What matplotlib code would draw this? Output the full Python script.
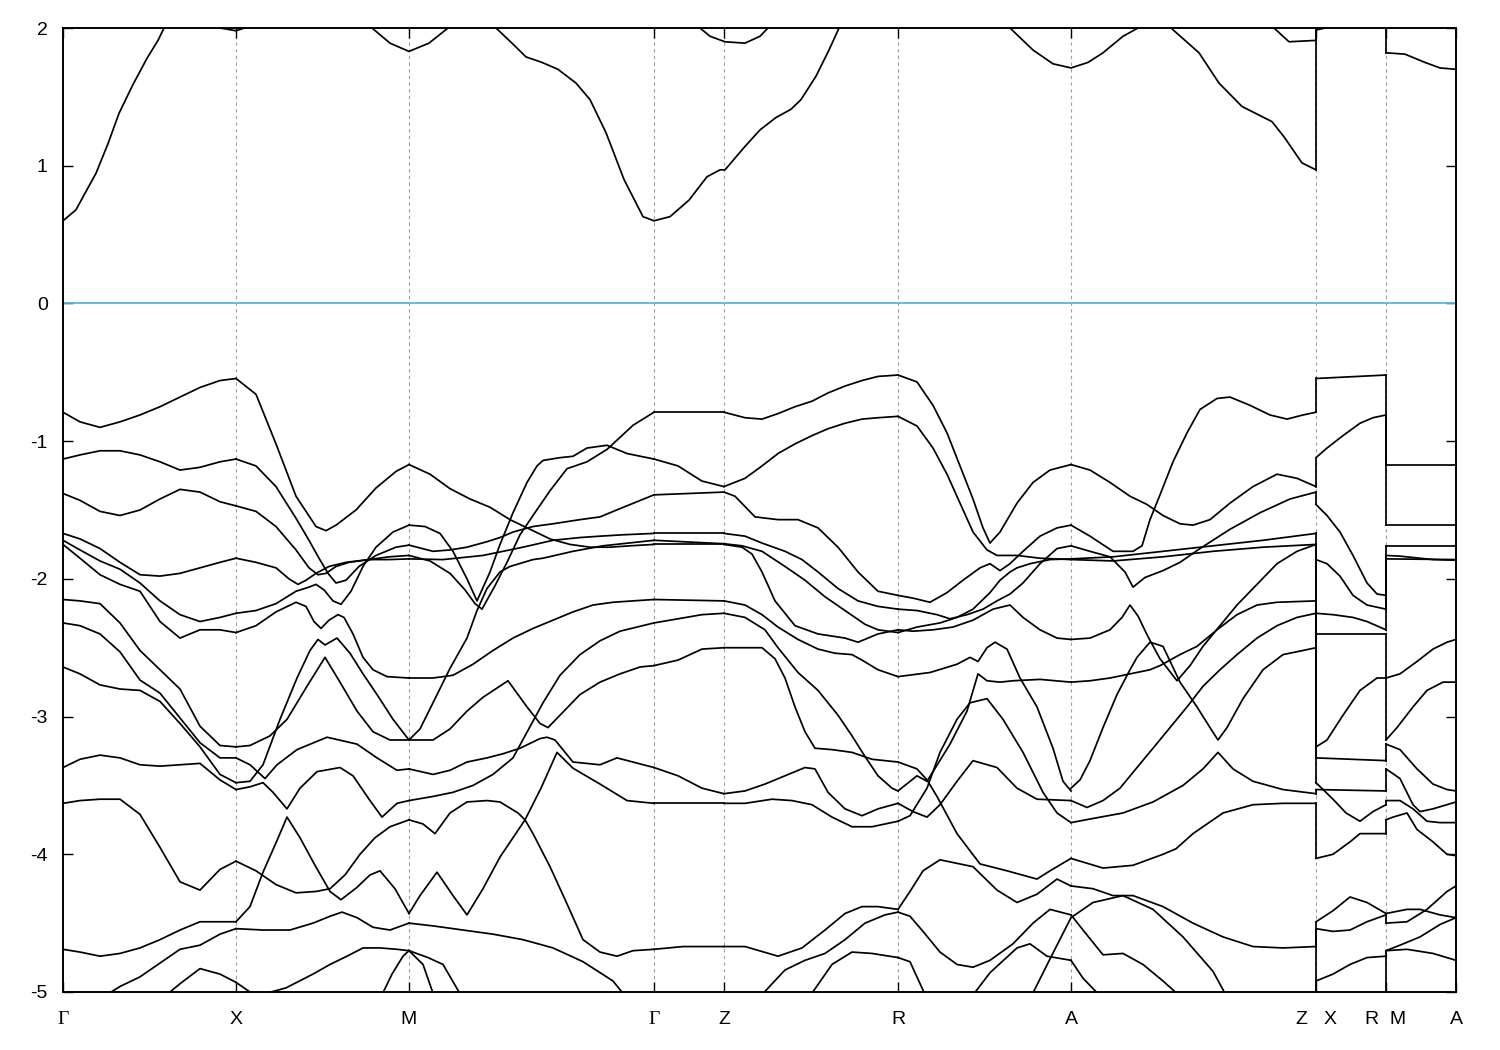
import matplotlib
matplotlib.use("Agg")
from matplotlib import pyplot as plt

plt.rcParams['font.family'] = ['Liberation Sans', 'DejaVu Sans']
plt.rcParams['axes.unicode_minus'] = False

# high-symmetry points along the k-path (path length, arbitrary units)
tick_pos = [0, 173, 346, 591, 661, 835, 1008, 1253, 1323, 1393]
tick_lab = ["Γ", "X", "M", "Γ", "Z", "R", "A", "Z   X", "R  M", "A"]
breaks = [1253, 1323]

# Gamma - X, bands on a common k grid
gx_k = [0, 17, 37, 57, 77, 97, 117, 137, 157, 173]
gx_e = [
    [-0.79, -0.86, -0.90, -0.86, -0.81, -0.75, -0.68, -0.61, -0.56, -0.545],
    [-1.13, -1.10, -1.07, -1.07, -1.10, -1.15, -1.21, -1.19, -1.15, -1.13],
    [-1.38, -1.43, -1.51, -1.54, -1.50, -1.42, -1.35, -1.37, -1.44, -1.47],
    [-1.67, -1.71, -1.78, -1.88, -1.97, -1.98, -1.96, -1.92, -1.88, -1.85],
    [-1.72, -1.79, -1.87, -1.93, -2.03, -2.16, -2.26, -2.31, -2.28, -2.25],
    [-1.75, -1.85, -1.97, -2.04, -2.09, -2.31, -2.43, -2.37, -2.37, -2.39],
    [-2.15, -2.16, -2.18, -2.32, -2.52, -2.66, -2.80, -3.07, -3.21, -3.22],
    [-2.32, -2.34, -2.40, -2.53, -2.735, -2.83, -3.01, -3.19, -3.30, -3.30],
    [-2.64, -2.69, -2.77, -2.80, -2.81, -2.89, -3.05, -3.22, -3.42, -3.48],
    [-3.37, -3.31, -3.28, -3.30, -3.35, -3.36, -3.35, -3.34, -3.46, -3.53],
    [-3.63, -3.61, -3.60, -3.60, -3.71, -3.95, -4.20, -4.26, -4.11, -4.05],
    [-4.69, -4.71, -4.74, -4.72, -4.68, -4.62, -4.55, -4.49, -4.49, -4.49],
    [-5.35, -5.20, -5.05, -4.96, -4.89, -4.79, -4.69, -4.66, -4.58, -4.54],
    [-5.50, -5.40, -5.30, -5.20, -5.12, -5.06, -4.94, -4.83, -4.87, -4.93],
]

# X - M, (k, E) pairs
xm_bands = [
    [(173, -0.545), (193, -0.66), (213, -1.02), (233, -1.40), (253, -1.62), (263, -1.65), (273, -1.61), (293, -1.50), (313, -1.34), (333, -1.22), (346, -1.17)],
    [(173, -1.13), (193, -1.18), (213, -1.33), (233, -1.56), (246, -1.72), (256, -1.85), (265, -1.96), (273, -2.03), (283, -2.01), (296, -1.91), (313, -1.83), (333, -1.77), (346, -1.755)],
    [(173, -1.47), (193, -1.51), (213, -1.62), (233, -1.79), (246, -1.92), (255, -1.97), (263, -1.96), (273, -1.91), (286, -1.88), (306, -1.86), (326, -1.84), (346, -1.83)],
    [(173, -1.85), (193, -1.88), (213, -1.92), (226, -2.00), (235, -2.04), (243, -2.01), (253, -1.96), (266, -1.91), (283, -1.88), (306, -1.86), (326, -1.86), (346, -1.855)],
    [(173, -2.25), (193, -2.23), (213, -2.18), (233, -2.09), (246, -2.06), (253, -2.04), (261, -2.08), (270, -2.16), (278, -2.185), (288, -2.09), (300, -1.91), (313, -1.77), (330, -1.66), (346, -1.61)],
    [(173, -2.39), (193, -2.34), (213, -2.24), (233, -2.17), (243, -2.20), (251, -2.31), (258, -2.36), (266, -2.30), (275, -2.26), (281, -2.28), (290, -2.40), (300, -2.57), (310, -2.66), (324, -2.71), (346, -2.72)],
    [(173, -3.22), (187, -3.21), (207, -3.14), (224, -3.02), (244, -2.78), (262, -2.57), (277, -2.75), (294, -2.96), (310, -3.11), (327, -3.17), (346, -3.17)],
    [(173, -3.48), (187, -3.47), (200, -3.35), (217, -3.02), (234, -2.72), (247, -2.52), (255, -2.44), (262, -2.48), (274, -2.43), (287, -2.54), (300, -2.69), (314, -2.84), (330, -3.02), (346, -3.17)],
    [(173, -3.30), (187, -3.35), (202, -3.45), (214, -3.35), (234, -3.24), (264, -3.15), (294, -3.20), (314, -3.30), (334, -3.39), (346, -3.38)],
    [(173, -3.53), (187, -3.51), (200, -3.48), (210, -3.55), (224, -3.67), (237, -3.52), (254, -3.40), (277, -3.37), (290, -3.43), (307, -3.61), (319, -3.73), (334, -3.63), (346, -3.61)],
    [(173, -4.05), (193, -4.12), (213, -4.22), (233, -4.28), (253, -4.27), (267, -4.25), (282, -4.15), (297, -4.00), (312, -3.88), (327, -3.80), (346, -3.75)],
    [(173, -4.49), (187, -4.38), (200, -4.13), (214, -3.90), (224, -3.73), (237, -3.88), (252, -4.08), (267, -4.27), (278, -4.33), (294, -4.24), (307, -4.15), (317, -4.12), (332, -4.25), (346, -4.43)],
    [(173, -4.54), (200, -4.55), (227, -4.55), (250, -4.50), (267, -4.45), (279, -4.42), (294, -4.46), (310, -4.53), (327, -4.55), (346, -4.50)],
    [(193, -5.03), (223, -4.97), (250, -4.87), (267, -4.80), (284, -4.74), (300, -4.68), (317, -4.68), (334, -4.69), (346, -4.70)],
    [(317, -5.05), (329, -4.87), (340, -4.74), (346, -4.70)],
    [(173, -4.93), (187, -5.00), (202, -5.10)],
]

# M - Gamma
mg_bands = [
    [(346, -1.17), (367, -1.24), (387, -1.345), (407, -1.42), (427, -1.48), (447, -1.57), (467, -1.64), (487, -1.71), (507, -1.75), (527, -1.77), (547, -1.77), (567, -1.76), (591, -1.75)],
    [(346, -1.61), (362, -1.62), (377, -1.67), (390, -1.80), (404, -2.00), (414, -2.16), (427, -1.95), (437, -1.75), (450, -1.52), (464, -1.30), (474, -1.18), (480, -1.14), (497, -1.12), (510, -1.11), (524, -1.05), (544, -1.03), (564, -1.09), (591, -1.13)],
    [(346, -1.755), (370, -1.80), (387, -1.79), (404, -1.77), (424, -1.73), (437, -1.70), (450, -1.66), (470, -1.62), (490, -1.60), (517, -1.57), (537, -1.55), (557, -1.49), (591, -1.39)],
    [(346, -1.83), (367, -1.87), (387, -1.96), (402, -2.08), (412, -2.18), (419, -2.22), (432, -2.05), (444, -1.88), (457, -1.68), (470, -1.54), (487, -1.36), (504, -1.20), (524, -1.15), (544, -1.06), (570, -0.885), (591, -0.79)],
    [(346, -1.855), (380, -1.86), (420, -1.83), (460, -1.77), (490, -1.72), (517, -1.70), (537, -1.69), (560, -1.68), (591, -1.67)],
    [(346, -2.72), (370, -2.72), (390, -2.70), (410, -2.62), (430, -2.52), (450, -2.43), (470, -2.36), (490, -2.30), (510, -2.24), (530, -2.19), (550, -2.17), (570, -2.16), (591, -2.15)],
    [(346, -3.17), (357, -3.09), (370, -2.90), (387, -2.65), (404, -2.43), (414, -2.23), (424, -2.07), (437, -1.95), (447, -1.91), (470, -1.86), (480, -1.85), (510, -1.80), (540, -1.76), (591, -1.72)],
    [(346, -3.17), (370, -3.17), (387, -3.09), (404, -2.96), (420, -2.86), (445, -2.74), (464, -2.93), (477, -3.05), (485, -3.08), (497, -2.99), (517, -2.84), (537, -2.75), (557, -2.69), (577, -2.64), (591, -2.63)],
    [(346, -3.38), (370, -3.42), (387, -3.39), (404, -3.33), (424, -3.30), (440, -3.27), (457, -3.23), (477, -3.16), (484, -3.15), (492, -3.17), (510, -3.33), (537, -3.35), (554, -3.30), (591, -3.37)],
    [(346, -3.61), (370, -3.58), (390, -3.55), (410, -3.50), (430, -3.42), (450, -3.30), (465, -3.10), (480, -2.90), (497, -2.70), (517, -2.55), (537, -2.45), (557, -2.38), (591, -2.32)],
    [(346, -3.75), (360, -3.78), (372, -3.85), (387, -3.70), (404, -3.62), (424, -3.61), (437, -3.62), (455, -3.70), (462, -3.75), (470, -3.85), (487, -4.09), (504, -4.36), (520, -4.62), (537, -4.71), (554, -4.74), (570, -4.70), (591, -4.69)],
    [(346, -4.43), (357, -4.30), (374, -4.13), (390, -4.30), (404, -4.44), (420, -4.25), (437, -4.02), (450, -3.88), (462, -3.75), (478, -3.52), (494, -3.26), (510, -3.375), (537, -3.49), (564, -3.61), (591, -3.63)],
    [(346, -4.50), (370, -4.52), (400, -4.55), (430, -4.58), (460, -4.62), (490, -4.68), (520, -4.78), (550, -4.92), (570, -5.10)],
    [(346, -4.70), (360, -4.80), (372, -5.05)],
    [(346, -4.70), (365, -4.75), (380, -4.80), (400, -5.05)],
]

# Gamma - Z
gz_bands = [
    [(591, -0.79), (661, -0.79)],
    [(591, -1.13), (615, -1.18), (639, -1.29), (661, -1.33)],
    [(591, -1.39), (661, -1.37)],
    [(591, -1.67), (661, -1.67)],
    [(591, -1.72), (661, -1.745)],
    [(591, -1.75), (661, -1.75)],
    [(591, -2.15), (661, -2.16)],
    [(591, -2.32), (615, -2.29), (639, -2.26), (661, -2.25)],
    [(591, -2.63), (615, -2.59), (639, -2.51), (661, -2.50)],
    [(591, -3.37), (615, -3.43), (639, -3.52), (661, -3.56)],
    [(591, -3.63), (661, -3.63)],
    [(591, -4.69), (620, -4.67), (661, -4.67)],
]

# Z - R
zr_bands = [
    [(661, -0.79), (682, -0.83), (699, -0.84), (715, -0.80), (732, -0.75), (749, -0.71), (765, -0.65), (782, -0.60), (799, -0.56), (815, -0.53), (835, -0.52)],
    [(661, -1.33), (682, -1.27), (699, -1.18), (715, -1.09), (732, -1.02), (749, -0.96), (765, -0.91), (782, -0.87), (799, -0.84), (815, -0.83), (835, -0.82)],
    [(661, -1.37), (672, -1.40), (692, -1.55), (715, -1.57), (735, -1.57), (755, -1.63), (775, -1.77), (795, -1.95), (815, -2.09), (835, -2.12)],
    [(661, -1.67), (682, -1.69), (699, -1.74), (722, -1.80), (739, -1.86), (755, -1.95), (775, -2.07), (795, -2.16), (815, -2.20), (835, -2.22)],
    [(661, -1.745), (679, -1.76), (699, -1.80), (722, -1.91), (742, -2.01), (762, -2.13), (782, -2.23), (802, -2.33), (815, -2.37), (835, -2.39)],
    [(661, -1.75), (679, -1.77), (689, -1.82), (699, -1.95), (712, -2.16), (732, -2.34), (755, -2.40), (782, -2.43), (795, -2.46), (815, -2.40), (835, -2.37)],
    [(661, -2.16), (682, -2.19), (699, -2.26), (715, -2.35), (735, -2.44), (755, -2.51), (772, -2.54), (789, -2.55), (799, -2.59), (815, -2.66), (835, -2.71)],
    [(661, -2.25), (682, -2.28), (702, -2.37), (715, -2.50), (735, -2.68), (755, -2.81), (775, -2.99), (789, -3.14), (802, -3.29), (815, -3.43), (829, -3.52), (835, -3.54)],
    [(661, -2.50), (682, -2.50), (699, -2.50), (712, -2.58), (722, -2.72), (732, -2.93), (742, -3.11), (752, -3.23), (769, -3.24), (789, -3.26), (809, -3.31), (835, -3.33)],
    [(661, -3.56), (682, -3.54), (702, -3.49), (722, -3.43), (742, -3.37), (752, -3.38), (765, -3.55), (782, -3.67), (799, -3.72), (815, -3.67), (835, -3.63)],
    [(661, -3.63), (682, -3.63), (709, -3.60), (729, -3.61), (749, -3.64), (769, -3.73), (789, -3.80), (809, -3.80), (835, -3.76)],
    [(661, -4.67), (682, -4.67), (715, -4.74), (739, -4.68), (762, -4.55), (782, -4.43), (799, -4.38), (815, -4.38), (835, -4.40)],
    [(695, -5.05), (722, -4.84), (742, -4.77), (762, -4.72), (782, -4.62), (802, -4.50), (822, -4.44), (835, -4.42)],
    [(745, -5.05), (769, -4.80), (789, -4.71), (809, -4.72), (835, -4.75)],
]

# R - A
ra_bands = [
    [(835, -0.52), (854, -0.57), (870, -0.74), (884, -0.94), (897, -1.18), (910, -1.42), (920, -1.63), (927, -1.74), (937, -1.66), (954, -1.45), (970, -1.30), (987, -1.21), (1008, -1.17)],
    [(835, -0.82), (854, -0.89), (870, -1.05), (884, -1.24), (897, -1.45), (910, -1.66), (924, -1.79), (934, -1.83), (954, -1.83), (977, -1.85), (1008, -1.86)],
    [(835, -2.12), (850, -2.14), (867, -2.17), (884, -2.10), (900, -2.01), (917, -1.92), (927, -1.89), (937, -1.94), (947, -1.89), (960, -1.80), (977, -1.69), (994, -1.63), (1008, -1.61)],
    [(835, -2.22), (854, -2.23), (874, -2.26), (887, -2.29), (904, -2.26), (920, -2.22), (934, -2.16), (947, -2.11), (960, -2.03), (977, -1.89), (994, -1.78), (1008, -1.76)],
    [(835, -2.39), (854, -2.35), (877, -2.32), (894, -2.28), (910, -2.22), (927, -2.10), (937, -2.01), (947, -1.95), (954, -1.92), (967, -1.89), (987, -1.86), (1008, -1.855)],
    [(835, -2.37), (850, -2.38), (870, -2.37), (890, -2.35), (910, -2.30), (930, -2.22), (947, -2.19), (960, -2.28), (977, -2.37), (994, -2.43), (1008, -2.44)],
    [(835, -2.71), (867, -2.68), (894, -2.62), (907, -2.57), (915, -2.60), (924, -2.50), (932, -2.46), (944, -2.51), (957, -2.72), (974, -2.93), (990, -3.23), (1000, -3.47), (1008, -3.54)],
    [(835, -3.54), (854, -3.43), (864, -3.47), (870, -3.40), (887, -3.20), (904, -2.96), (915, -2.69), (924, -2.74), (937, -2.75), (950, -2.74), (977, -2.73), (1008, -2.75)],
    [(835, -3.76), (847, -3.72), (864, -3.52), (877, -3.26), (894, -3.02), (907, -2.90), (924, -2.87), (940, -3.02), (960, -3.26), (980, -3.55), (994, -3.70), (1008, -3.77)],
    [(835, -3.63), (850, -3.69), (864, -3.73), (877, -3.64), (894, -3.47), (910, -3.32), (934, -3.37), (954, -3.52), (974, -3.60), (1008, -3.61)],
    [(835, -3.33), (854, -3.38), (864, -3.46), (874, -3.58), (894, -3.85), (917, -4.07), (944, -4.12), (974, -4.18), (987, -4.12), (1008, -4.03)],
    [(835, -4.40), (847, -4.27), (860, -4.12), (877, -4.04), (910, -4.09), (934, -4.26), (954, -4.35), (974, -4.29), (994, -4.18), (1008, -4.23)],
    [(835, -4.42), (847, -4.45), (860, -4.56), (877, -4.71), (894, -4.80), (910, -4.82), (927, -4.77), (950, -4.65), (970, -4.50), (987, -4.40), (1008, -4.44)],
    [(835, -4.75), (847, -4.78), (864, -5.05)],
    [(907, -5.05), (927, -4.86), (954, -4.68), (967, -4.65), (984, -4.74), (1008, -4.77)],
    [(967, -5.05), (987, -4.76), (1008, -4.46)],
]

# A - Z
az_bands = [
    [(1008, -1.17), (1027, -1.21), (1047, -1.30), (1067, -1.40), (1084, -1.46), (1100, -1.54), (1117, -1.60), (1130, -1.61), (1147, -1.57), (1167, -1.45), (1190, -1.33), (1214, -1.24), (1234, -1.27), (1253, -1.33)],
    [(1008, -1.61), (1027, -1.69), (1050, -1.80), (1070, -1.80), (1079, -1.76), (1087, -1.57), (1097, -1.39), (1110, -1.15), (1124, -0.94), (1137, -0.77), (1154, -0.69), (1167, -0.68), (1187, -0.74), (1207, -0.81), (1224, -0.84), (1240, -0.81), (1253, -0.79)],
    [(1008, -1.76), (1027, -1.80), (1047, -1.84), (1062, -1.95), (1070, -2.06), (1082, -1.99), (1100, -1.94), (1117, -1.88), (1137, -1.78), (1167, -1.64), (1197, -1.52), (1227, -1.42), (1253, -1.37)],
    [(1008, -1.855), (1050, -1.84), (1100, -1.80), (1150, -1.76), (1200, -1.72), (1253, -1.67)],
    [(1008, -1.86), (1050, -1.87), (1100, -1.84), (1150, -1.80), (1200, -1.77), (1253, -1.75)],
    [(1008, -2.44), (1027, -2.43), (1047, -2.37), (1059, -2.28), (1067, -2.19), (1075, -2.27), (1085, -2.42), (1097, -2.58), (1114, -2.74), (1127, -2.63), (1140, -2.49), (1157, -2.34), (1174, -2.19), (1194, -2.04), (1214, -1.89), (1234, -1.80), (1253, -1.75)],
    [(1008, -2.75), (1027, -2.74), (1047, -2.72), (1067, -2.69), (1087, -2.66), (1097, -2.63), (1117, -2.55), (1134, -2.49), (1154, -2.37), (1174, -2.26), (1194, -2.19), (1214, -2.17), (1253, -2.16)],
    [(1008, -3.52), (1017, -3.46), (1027, -3.32), (1040, -3.08), (1054, -2.84), (1067, -2.66), (1074, -2.57), (1087, -2.46), (1100, -2.49), (1117, -2.75), (1134, -2.93), (1147, -3.08), (1155, -3.17), (1164, -3.08), (1180, -2.87), (1200, -2.66), (1220, -2.55), (1240, -2.52), (1253, -2.50)],
    [(1008, -3.61), (1024, -3.66), (1040, -3.61), (1057, -3.52), (1074, -3.37), (1090, -3.23), (1107, -3.08), (1124, -2.93), (1140, -2.78), (1157, -2.66), (1174, -2.55), (1194, -2.43), (1214, -2.34), (1234, -2.28), (1253, -2.25)],
    [(1008, -3.77), (1030, -3.74), (1060, -3.70), (1090, -3.62), (1120, -3.50), (1140, -3.38), (1155, -3.26), (1170, -3.38), (1190, -3.47), (1220, -3.53), (1253, -3.56)],
    [(1008, -4.03), (1040, -4.10), (1070, -4.08), (1100, -4.00), (1113, -3.96), (1130, -3.85), (1160, -3.70), (1190, -3.64), (1220, -3.63), (1253, -3.63)],
    [(1008, -4.23), (1030, -4.25), (1050, -4.30), (1070, -4.30), (1100, -4.38), (1130, -4.50), (1160, -4.60), (1190, -4.67), (1220, -4.68), (1253, -4.67)],
    [(1008, -4.44), (1020, -4.55), (1040, -4.73), (1060, -4.72), (1080, -4.80), (1100, -4.92), (1120, -5.05)],
    [(1008, -4.77), (1020, -4.90), (1040, -5.05)],
    [(1008, -4.46), (1030, -4.35), (1060, -4.30), (1090, -4.40), (1120, -4.60), (1150, -4.85), (1165, -5.05)],
]

# X - R (after the break)
xr_bands = [
    [(1253, -0.545), (1323, -0.52)],
    [(1253, -1.12), (1264, -1.05), (1280, -0.96), (1297, -0.87), (1310, -0.83), (1323, -0.81)],
    [(1253, -1.46), (1264, -1.54), (1277, -1.66), (1290, -1.83), (1304, -2.03), (1314, -2.11), (1323, -2.12)],
    [(1253, -1.86), (1264, -1.89), (1277, -1.98), (1290, -2.12), (1304, -2.19), (1323, -2.22)],
    [(1253, -2.25), (1270, -2.26), (1290, -2.28), (1304, -2.31), (1323, -2.37)],
    [(1253, -2.40), (1323, -2.40)],
    [(1253, -3.22), (1264, -3.17), (1280, -2.99), (1297, -2.81), (1314, -2.72), (1323, -2.72)],
    [(1253, -3.30), (1323, -3.32)],
    [(1253, -3.48), (1270, -3.60), (1283, -3.70), (1297, -3.76), (1310, -3.69), (1323, -3.64)],
    [(1253, -3.53), (1323, -3.54)],
    [(1253, -4.03), (1270, -4.00), (1287, -3.91), (1297, -3.85), (1310, -3.85), (1323, -3.85)],
    [(1253, -4.49), (1270, -4.41), (1287, -4.31), (1304, -4.35), (1323, -4.43)],
    [(1253, -4.54), (1270, -4.56), (1287, -4.55), (1304, -4.49), (1323, -4.44)],
    [(1253, -4.92), (1270, -4.87), (1287, -4.80), (1304, -4.75), (1323, -4.74)],
]

# M - A (after the second break)
ma_bands = [
    [(1323, -1.17), (1393, -1.17)],
    [(1323, -1.61), (1393, -1.61)],
    [(1323, -1.76), (1393, -1.76)],
    [(1323, -1.83), (1337, -1.835), (1370, -1.86), (1393, -1.865)],
    [(1323, -1.855), (1393, -1.86)],
    [(1323, -2.72), (1337, -2.69), (1354, -2.60), (1370, -2.51), (1384, -2.46), (1393, -2.44)],
    [(1323, -3.17), (1334, -3.08), (1350, -2.93), (1364, -2.81), (1380, -2.75), (1393, -2.75)],
    [(1323, -3.20), (1337, -3.24), (1354, -3.38), (1370, -3.49), (1384, -3.53), (1393, -3.54)],
    [(1323, -3.38), (1337, -3.45), (1350, -3.64), (1357, -3.69), (1370, -3.67), (1393, -3.62)],
    [(1323, -3.61), (1337, -3.61), (1350, -3.67), (1364, -3.76), (1377, -3.77), (1393, -3.77)],
    [(1323, -3.75), (1330, -3.73), (1344, -3.70), (1354, -3.82), (1370, -3.91), (1384, -4.00), (1393, -4.01)],
    [(1323, -4.43), (1344, -4.40), (1357, -4.40), (1377, -4.44), (1393, -4.46)],
    [(1323, -4.50), (1344, -4.49), (1364, -4.40), (1384, -4.27), (1393, -4.23)],
    [(1323, -4.70), (1344, -4.69), (1370, -4.72), (1393, -4.77)],
    [(1323, -4.70), (1337, -4.66), (1357, -4.60), (1377, -4.51), (1393, -4.46)],
]

# conduction bands (values above 2 leave the window)
cond_bands = [
    [(0, 0.60), (13, 0.68), (22, 0.80), (33, 0.945), (45, 1.16), (56, 1.38), (70, 1.59), (84, 1.78), (95, 1.91), (101, 2.0),
     (127, 2.25), (157, 2.0), (173, 1.98), (190, 2.02), (230, 2.3), (290, 2.2), (309, 2.0), (327, 1.89), (346, 1.83), (366, 1.89),
     (385, 2.0), (410, 2.2), (433, 2.0), (449, 1.89), (463, 1.79), (479, 1.75), (495, 1.70), (513, 1.60), (527, 1.48), (543, 1.24),
     (561, 0.90), (580, 0.63), (591, 0.60), (607, 0.63), (626, 0.75), (644, 0.92), (657, 0.97), (662, 0.97), (682, 1.14), (697, 1.26),
     (713, 1.35), (728, 1.41), (738, 1.48), (753, 1.65), (766, 1.84), (776, 2.0), (835, 2.4), (900, 2.3), (947, 2.0), (970, 1.84),
     (990, 1.74), (1008, 1.71), (1025, 1.75), (1040, 1.82), (1060, 1.94), (1075, 2.0), (1092, 2.08), (1108, 2.0), (1136, 1.82),
     (1156, 1.60), (1179, 1.43), (1209, 1.32), (1221, 1.21), (1239, 1.02), (1253, 0.97)],
    [(0, 2.6), (300, 2.6), (560, 2.5), (620, 2.2), (637, 2.0), (647, 1.94), (662, 1.90), (682, 1.89), (697, 1.94), (705, 2.0),
     (720, 2.2), (900, 2.6), (1150, 2.4), (1200, 2.2), (1211, 2.0), (1226, 1.90), (1253, 1.91)],
    [(1253, 1.985), (1262, 2.0), (1290, 2.3), (1323, 2.4)],
    [(1253, 2.5), (1323, 2.6)],
    [(1323, 1.82), (1342, 1.81), (1362, 1.75), (1377, 1.71), (1393, 1.70)],
    [(1323, 2.5), (1393, 2.5)],
]

gx_bands = [list(zip(gx_k, row)) for row in gx_e]
all_bands = gx_bands + xm_bands + mg_bands + gz_bands + zr_bands + ra_bands + az_bands + xr_bands + ma_bands + cond_bands

fig = plt.figure(figsize=(15, 10.5), dpi=100)
ax = fig.add_axes([63 / 1500, 58 / 1050, 1393 / 1500, 964 / 1050])

for kp in tick_pos[1:-1]:
    ax.axvline(kp, color='#a0a0a0', lw=0.8, ls=(0, (3, 3)), zorder=1)
ax.axhline(0, color='#56b4e9', lw=1.3, zorder=2)

for band in all_bands:
    ks, es = zip(*band)
    ax.plot(ks, es, color='black', lw=1.25, zorder=3)

# gnuplot joins the band ends across a path break with vertical segments
for kb in breaks:
    left = sorted([b[-1][1] for b in all_bands if b[-1][0] == kb], reverse=True)
    right = sorted([b[0][1] for b in all_bands if b[0][0] == kb], reverse=True)
    n = max(len(left), len(right))
    left += [-6.0] * (n - len(left))
    right += [-6.0] * (n - len(right))
    for e1, e2 in zip(left, right):
        ax.plot([kb, kb], [e1, e2], color='black', lw=1.25, zorder=3)

ax.set_xlim(0, 1393)
ax.set_ylim(-5, 2)
ax.set_yticks(range(-5, 3))
ax.set_yticklabels([str(v) for v in range(-5, 3)])
ax.set_xticks(tick_pos)
ax.set_xticklabels(tick_lab)
for lab in ax.get_xticklabels():
    if "Γ" in lab.get_text():
        lab.set_fontfamily(['Liberation Serif', 'DejaVu Serif'])
ax.tick_params(axis='both', direction='in', length=7, width=1.0, top=True, right=True, labelsize=14)
ax.tick_params(axis='y', pad=11)
ax.tick_params(axis='x', pad=14)
for sp in ax.spines.values():
    sp.set_linewidth(1.4)

fig.savefig("out.png", dpi=100)
